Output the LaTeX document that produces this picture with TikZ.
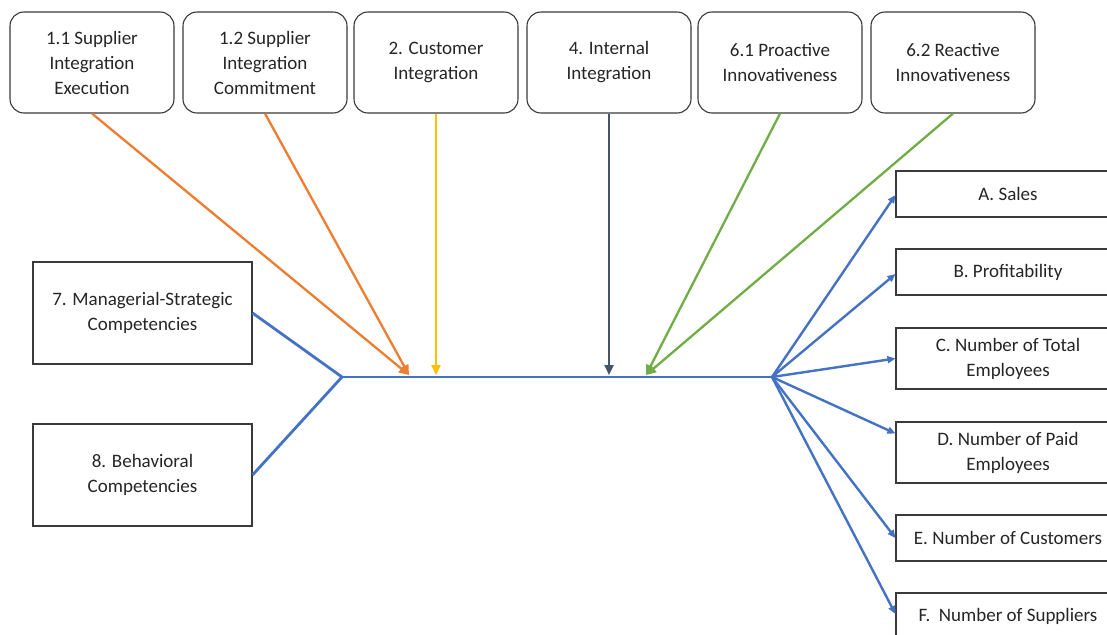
\documentclass[tikz,border=0pt]{standalone}
\usepackage{fontspec}
\setmainfont{Carlito}
\usetikzlibrary{arrows.meta,calc}
\definecolor{cOrange}{HTML}{ED7D31}
\definecolor{cYellow}{HTML}{FFC000}
\definecolor{cSlate}{HTML}{44546A}
\definecolor{cGreen}{HTML}{70AD47}
\definecolor{cBlue}{HTML}{4472C4}
\definecolor{boxline}{HTML}{3A3A3A}
\definecolor{textc}{HTML}{262626}
\begin{document}
\begin{tikzpicture}[x=1pt,y=-1pt,
  lbl/.style={align=center, text=textc, inner sep=0pt, font=\fontsize{19}{25}\selectfont},
  topbox/.style={lbl, draw=boxline, line width=1.1pt, rounded corners=14pt,
                 minimum width=164pt, minimum height=101pt},
  sidebox/.style={lbl, draw=boxline, line width=1.1pt,
                  minimum width=219pt, minimum height=102pt},
  outbox/.style={lbl, draw=boxline, line width=1.1pt, minimum width=224pt},
  feed/.style={line width=2.3pt, -{Triangle[length=10pt,width=9pt]}},
  spine/.style={cBlue, line width=2.8pt},
  outarrow/.style={cBlue, line width=2.4pt, -{Triangle[length=8pt,width=7pt]}}
]
\clip (0,0) rectangle (1107,634);
\fill[white] (0,0) rectangle (1107,634);

% drivers along the top
\node[topbox] (s11) at (92,62.5) {1.1 Supplier\\Integration\\Execution};
\node[topbox] (s12) at (265,62.5) {1.2 Supplier\\Integration\\Commitment};
\node[topbox] (ci)  at (436,62.5) {2. Customer\\Integration};
\node[topbox] (ii)  at (609,62.5) {4. Internal\\Integration};
\node[topbox] (pi)  at (780,62.5) {6.1 Proactive\\Innovativeness};
\node[topbox] (ri)  at (953,62.5) {6.2 Reactive\\Innovativeness};

% competencies on the left
\node[sidebox] (ms) at (142.5,313) {7. Managerial-Strategic\\Competencies};
\node[sidebox] (bc) at (142.5,475) {8. Behavioral\\Competencies};

% outcomes on the right
\node[outbox, minimum height=46pt] (oA) at (1008,194)   {A. Sales};
\node[outbox, minimum height=46pt] (oB) at (1008,272)   {B. Profitability};
\node[outbox, minimum height=61pt] (oC) at (1008,358.5) {C. Number of Total\\Employees};
\node[outbox, minimum height=61pt] (oD) at (1008,452.5) {D. Number of Paid\\Employees};
\node[outbox, minimum height=46pt] (oE) at (1008,538)   {E. Number of Customers};
\node[outbox, minimum height=46pt] (oF) at (1008,616)   {F.~ Number of Suppliers};

% spine
\coordinate (join) at (342,377);
\coordinate (hub)  at (772,377);
\coordinate (tO) at (409,375);
\coordinate (tY) at (436,375);
\coordinate (tS) at (609,375);
\coordinate (tG) at (646,375);

\draw[spine] (ms.east |- 0,313) -- (join);
\draw[spine] (bc.east |- 0,475) -- (join);
\draw[spine] (join) -- (hub);

% incoming influences
\draw[feed, cOrange] (s11.south) -- (tO);
\draw[feed, cOrange] (s12.south) -- (tO);
\draw[feed, cYellow] (ci.south) -- (tY);
\draw[feed, cSlate]  (ii.south) -- (tS);
\draw[feed, cGreen]  (pi.south) -- (tG);
\draw[feed, cGreen]  (ri.south) -- (tG);

% outcomes
\draw[outarrow] (hub) -- ([yshift=-1pt]oA.west);
\draw[outarrow] (hub) -- ([yshift=-2pt]oB.west);
\draw[outarrow] (hub) -- (oC.west);
\draw[outarrow] (hub) -- ([yshift=19pt]oD.west);
\draw[outarrow] (hub) -- (oE.west);
\draw[outarrow] (hub) -- ([yshift=2pt]oF.west);
\end{tikzpicture}
\end{document}
